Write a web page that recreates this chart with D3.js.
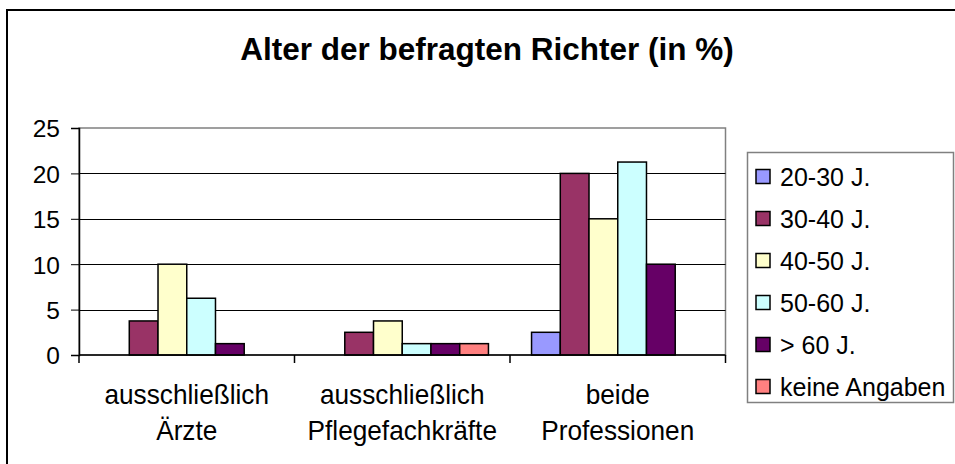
<!DOCTYPE html>
<html>
<head>
<meta charset="utf-8">
<script src="https://cdn.jsdelivr.net/npm/d3@7"></script>
<style>
  html, body { margin: 0; padding: 0; background: #fff; }
  svg { display: block; }
  text { font-family: "Liberation Sans", Arial, sans-serif; fill: #000; }
</style>
</head>
<body>
<svg id="chart" width="955" height="464"></svg>
<script>
// Age groups of the surveyed judges, in percent
const categories = [["ausschließlich", "Ärzte"], ["ausschließlich", "Pflegefachkräfte"], ["beide", "Professionen"]];
const seriesNames = ["20-30 J.", "30-40 J.", "40-50 J.", "50-60 J.", "> 60 J.", "keine Angaben"];
const seriesColors = ["#9999FF", "#993366", "#FFFFCC", "#CCFFFF", "#660066", "#FF8080"];
const values20_30 = [0, 0, 2.5];
const values30_40 = [3.75, 2.5, 20];
const values40_50 = [10, 3.75, 15];
const values50_60 = [6.25, 1.25, 21.25];
const valuesOver60 = [1.25, 1.25, 10];
const valuesNone = [0, 1.25, 0];
const yTicks = [0, 5, 10, 15, 20, 25];
const titleText = "Alter der befragten Richter (in %)";

const seriesValues = [values20_30, values30_40, values40_50, values50_60, valuesOver60, valuesNone];

const svg = d3.select("#chart");

// outer chart frame
svg.append("rect")
  .attr("x", 7).attr("y", 10).attr("width", 960).attr("height", 470)
  .attr("fill", "#fff").attr("stroke", "#000").attr("stroke-width", 2);

svg.append("text")
  .attr("x", 487).attr("y", 60)
  .attr("text-anchor", "middle")
  .style("font-size", "31.5px").style("font-weight", "bold")
  .text(titleText);

const plot = { left: 79, right: 725.5, top: 128, bottom: 355 };

const x0 = d3.scaleBand()
  .domain(d3.range(categories.length))
  .range([plot.left, plot.right])
  .paddingInner(0).paddingOuter(0);

const x1 = d3.scaleBand()
  .domain(d3.range(seriesNames.length))
  .range([0, x0.bandwidth()])
  .paddingInner(0)
  .paddingOuter(0.75);

const y = d3.scaleLinear().domain([0, 25]).range([plot.bottom, plot.top]);

// plot area frame
svg.append("rect")
  .attr("x", plot.left).attr("y", plot.top)
  .attr("width", plot.right - plot.left).attr("height", plot.bottom - plot.top)
  .attr("fill", "none").attr("stroke", "#808080").attr("stroke-width", 1.5);

// gridlines
svg.append("g")
  .selectAll("line")
  .data(yTicks.filter(t => t > 0 && t < 25))
  .join("line")
  .attr("x1", plot.left).attr("x2", plot.right)
  .attr("y1", d => Math.round(y(d)) + 0.5).attr("y2", d => Math.round(y(d)) + 0.5)
  .attr("stroke", "#000").attr("stroke-width", 1);

// y axis
const yAxis = svg.append("g")
  .attr("transform", `translate(${plot.left},0)`)
  .call(d3.axisLeft(y).tickValues(yTicks).tickSize(8).tickPadding(11).tickFormat(d3.format("d")));
yAxis.select(".domain").attr("stroke", "#000").attr("stroke-width", 1.5);
yAxis.selectAll(".tick line").attr("stroke", "#000");
yAxis.selectAll(".tick text")
  .style("font-size", "24.5px").style("font-family", "'Liberation Sans', Arial, sans-serif")
  .attr("dy", "0.36em");

// bars
const groups = svg.append("g")
  .selectAll("g")
  .data(seriesValues)
  .join("g")
  .attr("fill", (d, i) => seriesColors[i]);

groups.selectAll("rect")
  .data((vals, si) => vals.map((v, ci) => ({ v, ci, si })).filter(d => d.v > 0))
  .join("rect")
  .attr("x", d => x0(d.ci) + x1(d.si))
  .attr("width", x1.bandwidth())
  .attr("y", d => y(d.v))
  .attr("height", d => y(0) - y(d.v))
  .attr("stroke", "#000").attr("stroke-width", 1.5);

// x axis line with category boundary ticks
svg.append("line")
  .attr("x1", plot.left).attr("x2", plot.right)
  .attr("y1", plot.bottom).attr("y2", plot.bottom)
  .attr("stroke", "#000").attr("stroke-width", 1.5);
svg.append("g")
  .selectAll("line")
  .data(d3.range(categories.length + 1))
  .join("line")
  .attr("x1", i => plot.left + i * x0.step()).attr("x2", i => plot.left + i * x0.step())
  .attr("y1", plot.bottom).attr("y2", plot.bottom + 8)
  .attr("stroke", "#000").attr("stroke-width", 1.5);

// category labels
const catLabels = svg.append("g")
  .selectAll("g")
  .data(categories)
  .join("g")
  .attr("transform", (d, i) => `translate(${x0(i) + x0.bandwidth() / 2},404) scale(0.92,1)`);
catLabels.selectAll("text")
  .data(d => d)
  .join("text")
  .attr("text-anchor", "middle")
  .attr("x", 0)
  .attr("y", (d, li) => li * 36)
  .style("font-size", "28.5px")
  .text(d => d);

// legend
const legend = svg.append("g");
legend.append("rect")
  .attr("x", 747.5).attr("y", 152.5).attr("width", 206).attr("height", 250)
  .attr("fill", "#fff").attr("stroke", "#808080").attr("stroke-width", 1.5);

const legendItems = legend.selectAll("g.item")
  .data(seriesNames)
  .join("g")
  .attr("class", "item")
  .attr("transform", (d, i) => `translate(756, ${176.5 + i * 42})`);
legendItems.append("rect")
  .attr("x", 0).attr("y", -7).attr("width", 14).attr("height", 14)
  .attr("fill", (d, i) => seriesColors[i])
  .attr("stroke", "#000").attr("stroke-width", 1.5);
legendItems.append("text")
  .attr("x", 24).attr("y", 0).attr("dy", "0.36em")
  .style("font-size", "25px")
  .text(d => d);
</script>
</body>
</html>
